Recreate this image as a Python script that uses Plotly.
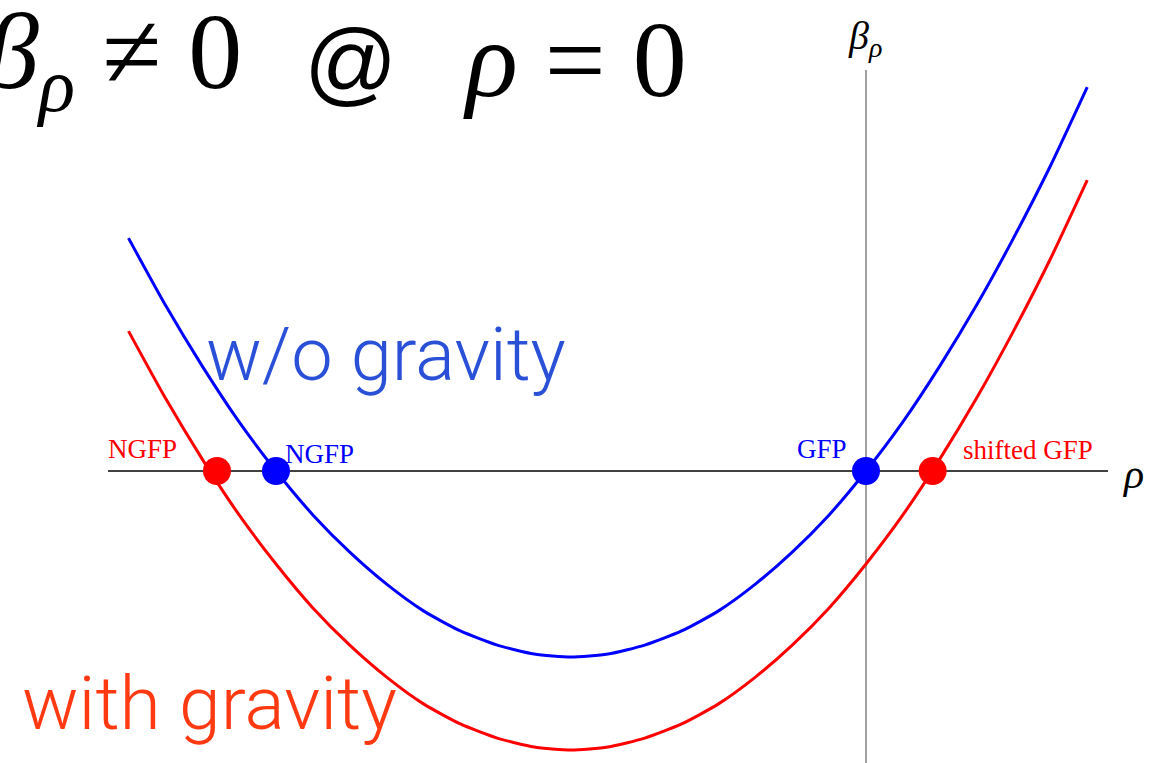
import plotly.graph_objects as go

# Beta function beta_rho(rho), sampled along rho
rho = [-1.25, -1.1875, -1.125, -1.0625, -1.0, -0.9375, -0.875, -0.8125,
       -0.75, -0.6875, -0.625, -0.5625, -0.5, -0.4375, -0.375, -0.3125,
       -0.25, -0.1875, -0.125, -0.0625, 0.0, 0.0625, 0.125, 0.1875,
       0.25, 0.3125, 0.375]
beta_no_gravity = [0.313, 0.223, 0.141, 0.066, 0.0, -0.059, -0.109, -0.152,
                   -0.188, -0.215, -0.234, -0.246, -0.250, -0.246, -0.234, -0.215,
                   -0.188, -0.152, -0.109, -0.059, 0.0, 0.066, 0.141, 0.223,
                   0.313, 0.410, 0.516]
beta_with_gravity = [0.188, 0.098, 0.016, -0.059, -0.125, -0.184, -0.234, -0.277,
                     -0.313, -0.340, -0.359, -0.371, -0.375, -0.371, -0.359, -0.340,
                     -0.313, -0.277, -0.234, -0.184, -0.125, -0.059, 0.016, 0.098,
                     0.188, 0.285, 0.391]

# Fixed points (zeros of beta)
fp_no_gravity_rho = [-1.0, 0.0]
fp_with_gravity_rho = [-1.10, 0.113]
fp_beta = [0.0, 0.0]

W, H = 1165, 763
X_RANGE = [-1.4678, 0.5068]
Y_RANGE = [-0.3925, 0.6331]


def px(x):
    return x / W


def py(y):
    return 1 - y / H


fig = go.Figure()

# axes drawn as plain lines
fig.add_shape(type="line", x0=-1.2847, x1=0.4102, y0=0, y1=0,
              line=dict(color="black", width=1.3), layer="below")
fig.add_shape(type="line", x0=0, x1=0, y0=Y_RANGE[0], y1=0.539,
              line=dict(color="#8a8a8a", width=1.6), layer="below")

fig.add_trace(go.Scatter(x=rho, y=beta_no_gravity, mode="lines",
                         line=dict(color="#0000ff", width=3, shape="spline", smoothing=0.6),
                         hoverinfo="skip"))
fig.add_trace(go.Scatter(x=rho, y=beta_with_gravity, mode="lines",
                         line=dict(color="#ff0000", width=3, shape="spline", smoothing=0.6),
                         hoverinfo="skip"))
fig.add_trace(go.Scatter(x=fp_no_gravity_rho, y=fp_beta, mode="markers",
                         marker=dict(color="#0000ff", size=28, line=dict(width=0))))
fig.add_trace(go.Scatter(x=fp_with_gravity_rho, y=fp_beta, mode="markers",
                         marker=dict(color="#ff0000", size=28, line=dict(width=0))))

serif = "Liberation Serif, Times New Roman, serif"
sans = "Roboto, Liberation Sans, sans-serif"

annotations = [
    # headline, set in three pieces
    dict(x=px(244), y=py(60), xanchor="right", yanchor="middle",
         text="<i>β</i><sub><i>ρ</i></sub> ≠ 0",
         font=dict(family=serif, size=108, color="black")),
    dict(x=px(350), y=py(62), xanchor="center", yanchor="middle",
         text="@", font=dict(family="Liberation Sans, sans-serif", size=92, color="black")),
    dict(x=px(689), y=py(60), xanchor="right", yanchor="middle",
         text="<i>ρ</i> = 0",
         font=dict(family=serif, size=108, color="black")),
    # axis labels
    dict(x=px(865), y=py(38), xanchor="center", yanchor="middle",
         text="<i>β</i><sub><i>ρ</i></sub>",
         font=dict(family=serif, size=40, color="black")),
    dict(x=px(1120), y=py(474), xanchor="left", yanchor="middle",
         text="<i>ρ</i>", font=dict(family=serif, size=42, color="black")),
    # fixed point labels
    dict(x=px(106), y=py(449), xanchor="left", yanchor="middle",
         text="NGFP", font=dict(family=serif, size=27, color="#ff0000")),
    dict(x=px(283), y=py(454), xanchor="left", yanchor="middle",
         text="NGFP", font=dict(family=serif, size=27, color="#0000ff")),
    dict(x=px(849), y=py(449), xanchor="right", yanchor="middle",
         text="GFP", font=dict(family=serif, size=27, color="#0000ff")),
    dict(x=px(961), y=py(450), xanchor="left", yanchor="middle",
         text="shifted GFP", font=dict(family=serif, size=27, color="#ff0000")),
    # curve labels
    dict(x=px(204), y=py(354), xanchor="left", yanchor="middle",
         text="w/o gravity", font=dict(family=sans, size=74, color="#2a50d8", weight=300)),
    dict(x=px(20), y=py(703), xanchor="left", yanchor="middle",
         text="with gravity", font=dict(family=sans, size=75, color="#ff3a12", weight=300)),
]
for a in annotations:
    a.update(xref="paper", yref="paper", showarrow=False)

fig.update_layout(
    width=W, height=H,
    margin=dict(l=0, r=0, t=0, b=0),
    paper_bgcolor="white", plot_bgcolor="white",
    showlegend=False,
    annotations=annotations,
    xaxis=dict(range=X_RANGE, visible=False, fixedrange=True),
    yaxis=dict(range=Y_RANGE, visible=False, fixedrange=True),
)

fig.write_html("out.html")
